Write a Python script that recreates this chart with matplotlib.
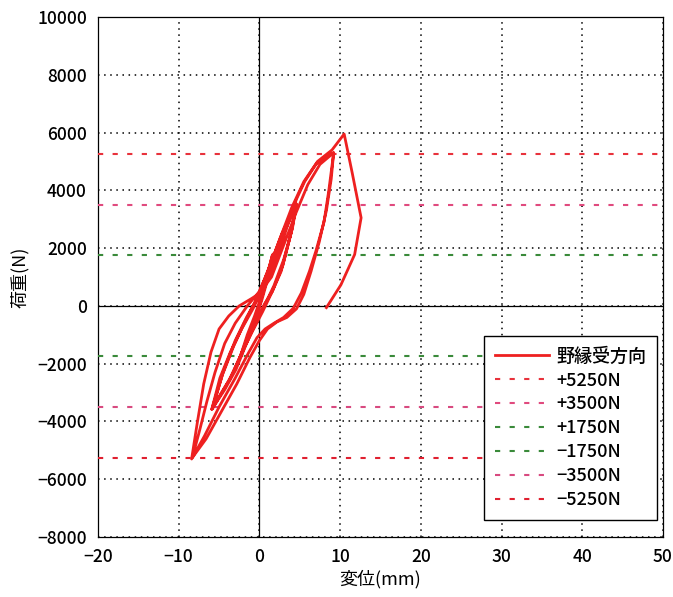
import matplotlib
matplotlib.use("Agg")
import matplotlib.pyplot as plt

plt.rcParams['font.family'] = ['Noto Sans CJK JP', 'DejaVu Sans']
plt.rcParams['font.weight'] = 'medium'
plt.rcParams['axes.unicode_minus'] = True

# hysteresis curve: displacement (mm) / load (N)
disp = [0.0, 0.8, 1.6, 1.0, 0.4, -0.4, -1.3, -2.3, -1.4, -0.5, 0.3, 1.0, 1.7, 1.0, 0.3, -0.6, -1.5, -2.4, -1.5, -0.6, 0.2,
        1.2, 2.4, 3.6, 4.6, 4.0, 2.7, 1.6, 0.7, -0.4, -1.6, -2.9, -4.3, -5.9, -4.9, -3.6, -2.2, -0.8, 0.4, 1.5, 2.7, 3.8, 4.6,
        4.1, 3.0, 1.8, 0.6, -0.6, -2.0, -3.4, -4.7, -5.9, -4.6, -3.2, -1.9, -0.6, 0.6, 1.7, 2.8, 3.8, 4.5,
        3.9, 2.9, 1.6, 0.4, -0.9, -2.3, -3.8, -5.8, -4.5, -3.0, -1.6, -0.3, 0.7,
        1.5, 3.0, 4.5, 6.0, 7.5, 9.2,
        8.6, 8.0, 7.0, 6.2, 5.2, 4.2, 3.0, 1.8, 0.7, -0.3, -1.5, -3.0, -5.0, -6.8, -8.4,
        -7.7, -6.9, -6.0, -5.0, -3.8, -2.5, -1.0, 0.4, 1.6, 2.6, 3.6, 4.6, 5.6, 7.0, 8.3, 9.2,
        8.9, 8.3, 7.4, 6.4, 5.5, 4.6, 3.4, 2.2, 1.0, 0.0, -1.2, -2.8, -4.8, -6.6, -8.3,
        -7.4, -6.5, -5.5, -4.3, -3.0, -1.5, 0.0, 1.2, 2.5, 4.0, 5.5, 7.2, 9.0, 10.5,
        11.5, 12.6, 11.8, 10.1, 8.3]
load = [0, 900, 1750, 1100, 400, -400, -1000, -1750, -1100, -450, 200, 900, 1800, 1000, 300, -500, -1100, -1780, -1000, -350, 300,
        1100, 2100, 2900, 3530, 2600, 1200, 500, 100, -500, -1300, -2200, -2900, -3580, -2500, -1600, -800, -100, 600, 1400, 2300, 3000, 3500,
        2700, 1600, 700, 0, -700, -1500, -2400, -3000, -3580, -2400, -1400, -600, 100, 900, 1700, 2500, 3100, 3450,
        2500, 1400, 500, -200, -900, -1700, -2600, -3550, -2300, -1200, -400, 250, 700,
        1000, 2100, 3200, 4200, 4900, 5300,
        4000, 2900, 1900, 1200, 450, -80, -400, -600, -800, -1100, -1700, -2500, -3500, -4500, -5300,
        -4050, -2700, -1600, -800, -350, 0, 250, 500, 1200, 2000, 2900, 3700, 4300, 4900, 5200, 5300,
        4400, 3300, 2200, 1200, 400, -100, -400, -550, -800, -1200, -1800, -2700, -3700, -4600, -5250,
        -4300, -3300, -2300, -1300, -600, 0, 500, 1300, 2300, 3400, 4300, 5000, 5400, 5950,
        4600, 3050, 1780, 730, -60]

ref_levels = [5250, 3500, 1750, -1750, -3500, -5250]
ref_labels = ['+5250N', '+3500N', '+1750N', '\u22121750N', '\u22123500N', '\u22125250N']
ref_colors = ['#e8323c', '#e04a7e', '#3a8a3a', '#3a8a3a', '#d84a80', '#e02030']

xticks = [-20, -10, 0, 10, 20, 30, 40, 50]
yticks = list(range(-8000, 10001, 2000))

fig = plt.figure(figsize=(6.73, 5.97), dpi=100)
ax = fig.add_axes([0.1456, 0.1005, 0.8395, 0.871])

ax.plot(disp, load, color='#ee2020', lw=2.0, label='野縁受方向', zorder=5)
for lv, lab, c in zip(ref_levels, ref_labels, ref_colors):
    ax.axhline(lv, color=c, lw=1.5, ls=(0, (2.5, 4.5)), label=lab, zorder=3)

ax.set_xlim(-20, 50)
ax.set_ylim(-8000, 10000)
ax.set_xticks(xticks)
ax.set_yticks(yticks)
ax.tick_params(length=0, labelsize=12.5, pad=8)
ax.grid(True, color='black', ls=(0, (1, 3)), lw=1.1)
ax.axhline(0, color='black', lw=0.9, zorder=2)
ax.axvline(0, color='black', lw=0.9, zorder=2)
for s in ax.spines.values():
    s.set_linewidth(0.9)

ax.set_xlabel('変位(mm)', fontsize=13, labelpad=3)
ax.set_ylabel('荷重(N)', fontsize=13, labelpad=6)

leg = ax.legend(loc='lower right', bbox_to_anchor=(0.999, 0.022), fontsize=13, frameon=True, fancybox=False,
                edgecolor='black', framealpha=1, handlelength=3.0, handletextpad=0.4, labelspacing=0.33,
                borderpad=0.6, borderaxespad=0.3)
leg.get_frame().set_linewidth(1.0)

fig.savefig('out.png', dpi=100)
